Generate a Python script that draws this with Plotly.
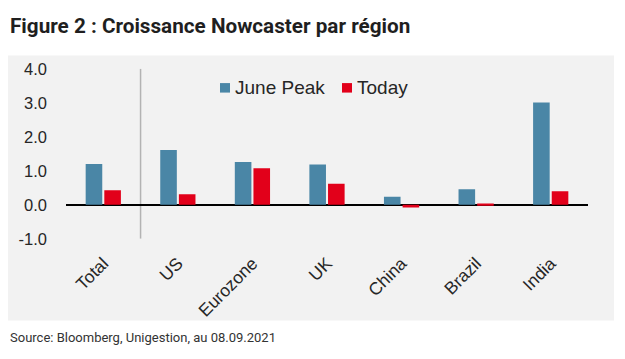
import plotly.graph_objects as go

categories = ["Total", "US", "Eurozone", "UK", "China", "Brazil", "India"]
june_peak = [1.20, 1.61, 1.26, 1.19, 0.24, 0.46, 3.01]
today = [0.43, 0.31, 1.08, 0.62, -0.08, 0.04, 0.40]
y_ticks = [-1.0, 0.0, 1.0, 2.0, 3.0, 4.0]
y_tick_labels = ["-1.0", "0.0", "1.0", "2.0", "3.0", "4.0"]
series_names = ["June Peak", "Today"]
series_colors = ["#4a86a6", "#e2001a"]

W, H = 625, 359

def px(x):
    return x / W

def py(y):
    return 1 - y / H

fig = go.Figure()
fig.add_trace(go.Bar(x=categories, y=june_peak, name=series_names[0], marker_color=series_colors[0],
                     marker_line_width=0, showlegend=False))
fig.add_trace(go.Bar(x=categories, y=today, name=series_names[1], marker_color=series_colors[1],
                     marker_line_width=0, showlegend=False))

sans = "Liberation Sans, Arial, sans-serif"
ytick_font = dict(family=sans, size=16.5, color="#262626")
xtick_font = dict(family=sans, size=17.5, color="#262626")

legend_items = [(220, 235), (342, 357)]
shapes = [
    dict(type="rect", xref="paper", yref="paper", x0=px(8), x1=px(614), y0=py(328), y1=py(49),
         fillcolor="#f2f2f2", line_width=0, layer="below"),
    dict(type="line", xref="x", yref="y", x0=0.5, x1=0.5, y0=-1, y1=4,
         line=dict(color="#b3b3b3", width=1.5), layer="below"),
]
annotations = [
    dict(text="<b>Figure 2 : Croissance Nowcaster par région</b>", xref="paper", yref="paper",
         x=px(8), y=py(18), xanchor="left", yanchor="middle", showarrow=False,
         font=dict(family="Roboto, sans-serif", size=20.7, color="#1f1f1f")),
    dict(text="Source: Bloomberg, Unigestion, au 08.09.2021", xref="paper", yref="paper",
         x=px(8), y=py(346), xanchor="left", yanchor="middle", showarrow=False,
         font=dict(family="Roboto, sans-serif", size=13, color="#333333")),
]
for (sx, tx), name, col in zip(legend_items, series_names, series_colors):
    shapes.append(dict(type="rect", xref="paper", yref="paper", x0=px(sx), x1=px(sx + 10),
                       y0=py(88), y1=py(78), fillcolor=col, line_width=0))
    annotations.append(dict(text=name, xref="paper", yref="paper", x=px(tx - 2), y=py(83),
                            xanchor="left", yanchor="middle", showarrow=False,
                            font=dict(family=sans, size=19, color="#262626")))

fig.update_layout(
    width=W, height=H,
    margin=dict(l=0, r=0, t=0, b=0),
    paper_bgcolor="white",
    plot_bgcolor="rgba(0,0,0,0)",
    barmode="group",
    bargap=0.5,
    bargroupgap=0.11,
    showlegend=False,
    xaxis=dict(domain=[px(66), px(588)], range=[-0.5, 6.5], showgrid=False, showline=False,
               ticks="", tickangle=-45, tickfont=xtick_font, ticklabelstandoff=10),
    yaxis=dict(domain=[py(242), py(63)], range=[-1, 4], tickvals=y_ticks, ticktext=y_tick_labels,
               showgrid=False, showline=False, zeroline=True, zerolinecolor="#000000",
               zerolinewidth=2, tickfont=ytick_font, ticklabelstandoff=18),
    shapes=shapes,
    annotations=annotations,
)

fig.write_html("out.html", config=dict(displayModeBar=False),
               post_script="document.body.style.margin='0';")
